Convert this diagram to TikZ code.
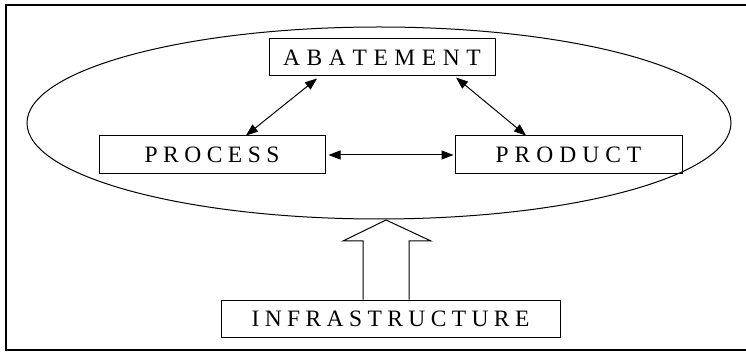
\documentclass[tikz,border=0pt]{standalone}
\usepackage{fontspec}
\setmainfont{Liberation Serif}
\usetikzlibrary{arrows.meta,calc}
\newdimen\lsk
\lsk=7pt
\def\lsloop#1{\ifx#1\relax\else\kern\lsk#1\expandafter\lsloop\fi}
\def\lsfirst#1{#1\lsloop}
\newcommand\lsp[2]{\lsk=#1\lsfirst#2\relax}
\tikzset{
  box/.style={draw, line width=1pt, rectangle, inner sep=0pt, font=\fontsize{23.5}{28}\selectfont},
  arr/.style={line width=1pt, {Triangle[length=12pt,width=9pt]}-{Triangle[length=12pt,width=9pt]}},
}
\begin{document}
\begin{tikzpicture}[x=1pt,y=-1pt]
\useasboundingbox (0,0) rectangle (746,352);
\draw[line width=2pt] (746,5) -- (6,5) -- (6,349.5) -- (746,349.5);
\draw[line width=1pt] (379,123) ellipse [x radius=352, y radius=96];
\node[box, minimum width=226pt, minimum height=37pt] (ab) at (382,57.5) {\lsp{6.6pt}{ABATEMENT}};
\node[box, minimum width=226pt, minimum height=38pt] (pc) at (212,155) {\lsp{5.5pt}{PROCESS}};
\node[box, minimum width=227pt, minimum height=38pt] (pd) at (568.5,155) {\lsp{6pt}{PRODUCT}};
\node[box, minimum width=339pt, minimum height=37pt] (inf) at (390.5,318.5) {\lsp{5.4pt}{INFRASTRUCTURE}};
\draw[arr] ([xshift=-65pt,yshift=-2pt]ab.south) -- ([xshift=34pt]pc.north);
\draw[arr] ([xshift=74pt,yshift=-1pt]ab.south) -- ([xshift=-42.5pt]pd.north);
\draw[arr] ([xshift=3pt]pc.east) -- ([xshift=-1pt]pd.west);
\draw[line width=1pt] (inf.north -| 363,0) -- (363,241) -- (343,241) -- (386,220) -- (431,241) -- (409,241) -- (inf.north -| 409,0);
\end{tikzpicture}
\end{document}
